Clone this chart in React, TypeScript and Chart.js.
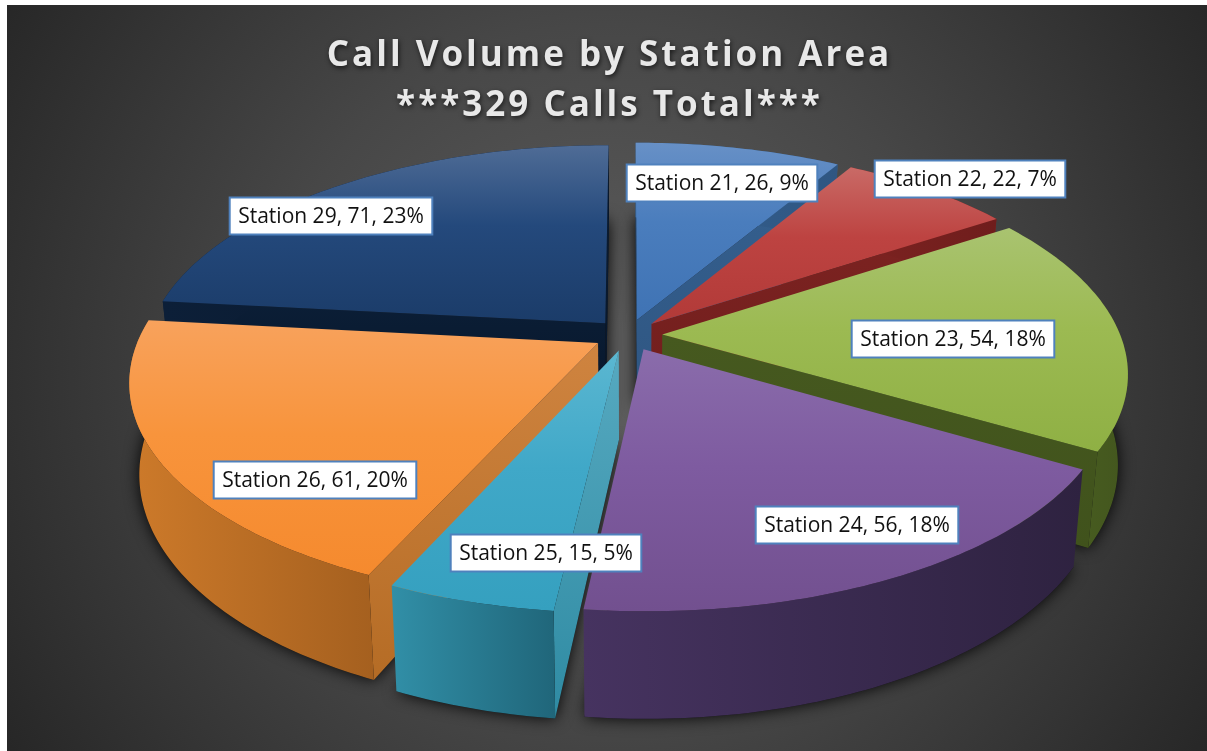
import React, { useEffect, useRef } from "react";
import { Chart, registerables } from "chart.js";

Chart.register(...registerables);

const stations = ["Station 21", "Station 22", "Station 23", "Station 24", "Station 25", "Station 26", "Station 29"];
const calls = [26, 22, 54, 56, 15, 61, 71];
const percents = [9, 7, 18, 18, 5, 20, 23];
const titleLines = ["Call Volume by Station Area", "***329 Calls Total***"];

// style tables
const topColors = [
  ["#6790c6", "#4a7dbd", "#3f73b4"],
  ["#c96a66", "#bd4341", "#b23a38"],
  ["#a9c370", "#9cba52", "#8fb044"],
  ["#8a6cab", "#7e5ba0", "#72508f"],
  ["#5bb7d1", "#40a8c8", "#35a0bf"],
  ["#f8a25c", "#f8943c", "#f58a2e"],
  ["#4f6c96", "#24497c", "#1b3c69"],
];
const wallColors = [
  ["#35608f", "#2f5682"],
  ["#7d2321", "#6f1d1c"],
  ["#4e6523", "#43561e"],
  ["#463360", "#2e2240"],
  ["#318fa7", "#20667a"],
  ["#cd7a2a", "#a5601f"],
  ["#0c1f38", "#081629"],
];
const sideColors = [
  ["#35608f", "#2f5682"],
  ["#7d2321", "#701e1d"],
  ["#46591f", "#40521c"],
  ["#463360", "#3a2a52"],
  ["#56a9c0", "#2f8ba3"],
  ["#cf8440", "#b56c25"],
  ["#0b1e36", "#07162a"],
];
const drawOrder = [6, 0, 1, 2, 5, 4, 3];
const labelCenters = [
  [722, 183],
  [970, 179],
  [953, 339],
  [857, 525],
  [546, 553],
  [315, 480],
  [331, 216],
];

const FONT = "'Open Sans', sans-serif";
const VIEW = { cx: 628, cy: 335, a: 458, b: 212, p: 0.17, depth: 88, shrink: 0.98 };

type Pt = [number, number];

function project(u: number, v: number, sink: boolean): Pt {
  const s = 1 / (1 - VIEW.p * v);
  const x = u * VIEW.a * s;
  const y = v * VIEW.b * s;
  if (!sink) return [VIEW.cx + x, VIEW.cy + y];
  return [VIEW.cx + x * VIEW.shrink, VIEW.cy + y + VIEW.depth * s];
}

function trace(ctx: CanvasRenderingContext2D, pts: Pt[]) {
  ctx.beginPath();
  pts.forEach((p, i) => (i ? ctx.lineTo(p[0], p[1]) : ctx.moveTo(p[0], p[1])));
  ctx.closePath();
}

function hGrad(ctx: CanvasRenderingContext2D, pts: Pt[], c: string[]) {
  const xs = pts.map((p) => p[0]);
  const g = ctx.createLinearGradient(Math.min(...xs), 0, Math.max(...xs), 0);
  g.addColorStop(0, c[0]);
  g.addColorStop(1, c[1]);
  return g;
}

const background = {
  id: "background",
  beforeDraw(chart: any) {
    const { ctx, width, height } = chart;
    ctx.save();
    ctx.fillStyle = "#ffffff";
    ctx.fillRect(0, 0, width, height);
    const g = ctx.createRadialGradient(610, 370, 40, 610, 370, 720);
    g.addColorStop(0, "#5c5c5c");
    g.addColorStop(0.45, "#474747");
    g.addColorStop(1, "#262626");
    ctx.fillStyle = g;
    ctx.fillRect(7, 5, width - 7, height - 5);
    ctx.restore();
    (ctx as any).letterSpacing = "3px";
    ctx.shadowColor = "rgba(0,0,0,0.65)";
    ctx.shadowBlur = 5;
    ctx.shadowOffsetX = 1;
    ctx.shadowOffsetY = 2;
  },
  beforeDatasetsDraw(chart: any) {
    const ctx = chart.ctx;
    (ctx as any).letterSpacing = "0px";
    ctx.shadowColor = "transparent";
    ctx.shadowBlur = 0;
    ctx.shadowOffsetX = 0;
    ctx.shadowOffsetY = 0;
  },
};

const pie3d = {
  id: "pie3d",
  beforeDatasetDraw(chart: any, args: any) {
    const ctx: CanvasRenderingContext2D = chart.ctx;
    const arcs = args.meta.data;
    const geo = arcs.map((el: any) => {
      const { startAngle, endAngle, outerRadius } = el.getProps(["startAngle", "endAngle", "outerRadius"], true);
      const mid = (startAngle + endAngle) / 2;
      const e = (el.options.offset || 0) / outerRadius;
      const ox = Math.cos(mid) * e;
      const oy = Math.sin(mid) * e;
      const n = Math.max(8, Math.round((endAngle - startAngle) * 60));
      const rim = (sink: boolean) => {
        const out: Pt[] = [];
        for (let i = 0; i <= n; i++) {
          const t = startAngle + ((endAngle - startAngle) * i) / n;
          out.push(project(ox + Math.cos(t), oy + Math.sin(t), sink));
        }
        return out;
      };
      return {
        startAngle,
        endAngle,
        apexTop: project(ox, oy, false),
        apexLow: project(ox, oy, true),
        top: rim(false),
        low: rim(true),
      };
    });

    // soft cast shadow on the floor
    ctx.save();
    ctx.shadowColor = "rgba(0,0,0,0.95)";
    ctx.shadowBlur = 16;
    ctx.fillStyle = "#111";
    geo.forEach((g: any) => {
      trace(ctx, [g.apexLow, ...g.low]);
      ctx.fill();
    });
    ctx.restore();

    drawOrder.forEach((i) => {
      const g = geo[i];
      const nTop = g.top.length - 1;
      const walls: Pt[][] = [];
      // only the radial walls that face the viewer
      if (Math.cos(g.startAngle) < 0.01) walls.push([g.apexTop, g.top[0], g.low[0], g.apexLow]);
      if (Math.cos(g.endAngle) > -0.01) walls.push([g.apexTop, g.top[nTop], g.low[nTop], g.apexLow]);
      walls.forEach((w) => {
        const grad = ctx.createLinearGradient(0, Math.min(...w.map((p) => p[1])), 0, Math.max(...w.map((p) => p[1])));
        grad.addColorStop(0, sideColors[i][0]);
        grad.addColorStop(1, sideColors[i][1]);
        ctx.fillStyle = grad;
        trace(ctx, w);
        ctx.fill();
      });
      const outer: Pt[] = [...g.top, ...g.low.slice().reverse()];
      ctx.fillStyle = hGrad(ctx, outer, wallColors[i]);
      trace(ctx, outer);
      ctx.fill();

      const face: Pt[] = [g.apexTop, ...g.top];
      const ys = face.map((p) => p[1]);
      const y0 = Math.min(...ys);
      const y1 = Math.max(...ys);
      const grad = ctx.createLinearGradient(0, y0, 0, y1);
      grad.addColorStop(0, topColors[i][0]);
      grad.addColorStop(0.45, topColors[i][1]);
      grad.addColorStop(1, topColors[i][2]);
      ctx.fillStyle = grad;
      trace(ctx, face);
      ctx.fill();
    });
    return false;
  },
  afterDatasetsDraw(chart: any) {
    const ctx: CanvasRenderingContext2D = chart.ctx;
    ctx.save();
    ctx.font = `21px ${FONT}`;
    ctx.textAlign = "center";
    ctx.textBaseline = "middle";
    stations.forEach((name, i) => {
      const text = `${name}, ${calls[i]}, ${percents[i]}%`;
      const w = ctx.measureText(text).width + 17;
      const [x, y] = labelCenters[i];
      const h = 37;
      ctx.fillStyle = "#ffffff";
      ctx.strokeStyle = "#4f81bd";
      ctx.lineWidth = 2;
      ctx.fillRect(x - w / 2, y - h / 2, w, h);
      ctx.strokeRect(x - w / 2, y - h / 2, w, h);
      ctx.fillStyle = "#111111";
      ctx.fillText(text, x, y + 1);
    });
    ctx.restore();
  },
};

export default function App() {
  const ref = useRef<HTMLCanvasElement>(null);
  useEffect(() => {
    const chart = new Chart(ref.current!, {
      type: "pie",
      data: {
        labels: stations,
        datasets: [
          {
            data: calls,
            backgroundColor: topColors.map((c) => c[1]),
            offset: 22,
            borderWidth: 0,
            clip: false,
          } as any,
        ],
      },
      options: {
        responsive: false,
        animation: false,
        layout: { padding: { left: 12 } },
        plugins: {
          legend: { display: false },
          tooltip: { enabled: false },
          title: {
            display: true,
            text: titleLines,
            color: "#e8e8e8",
            align: "center",
            padding: { top: 31, bottom: 10 },
            font: { family: FONT, size: 35, weight: "bold", lineHeight: 1.43 },
          },
        },
      },
      plugins: [background, pie3d],
    } as any);
    return () => chart.destroy();
  }, []);
  return (
    <div style={{ position: "fixed", left: 0, top: 0, width: 1207, height: 751 }}>
      <canvas ref={ref} width={1207} height={751} style={{ display: "block" }} />
    </div>
  );
}
